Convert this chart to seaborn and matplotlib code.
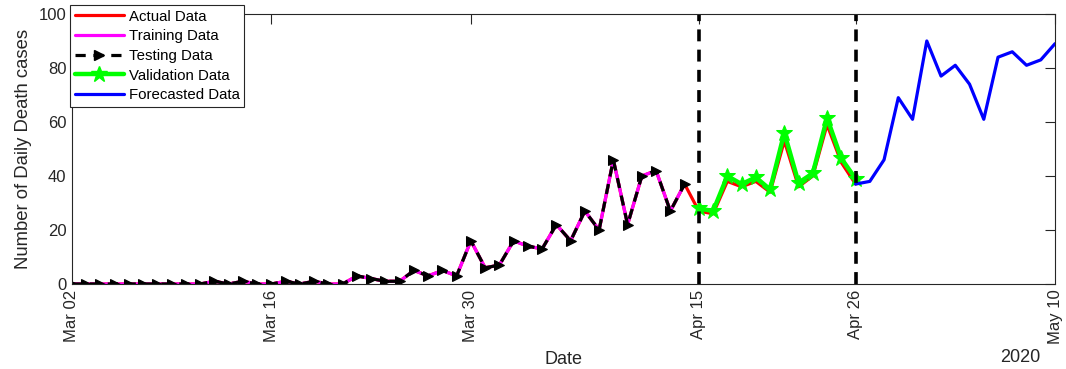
import numpy as np
import pandas as pd
import matplotlib
matplotlib.use("Agg")
import matplotlib.pyplot as plt
import matplotlib.dates as mdates
from matplotlib.lines import Line2D
import seaborn as sns

# Daily death counts, one value per day starting 2020-03-02
actual = [0, 0, 0, 0, 0, 0, 0, 0, 0, 0,
          1, 0, 1, 0, 0, 1, 0, 1, 0, 0,
          3, 2, 1, 1, 5, 3, 5, 3, 16, 6,
          7, 16, 14, 13, 22, 16, 27, 20, 46, 22,
          40, 42, 27, 37,
          27, 26, 38, 36, 38, 34, 53, 36, 40, 59, 45, 37]
train_len = 44                     # Mar 02 .. Apr 14
validation = [28, 27, 40, 37, 39.5, 35, 56, 37.5, 41, 61.5, 46.5, 39]   # Apr 15 .. Apr 26
forecast = [37, 38, 46, 69, 61, 90, 77, 81, 74, 61, 84, 86, 81, 83, 89]  # Apr 26 .. May 10

start = pd.Timestamp("2020-03-02")
tick_dates = ["2020-03-02", "2020-03-16", "2020-03-30", "2020-04-15", "2020-04-26", "2020-05-10"]
split_dates = ["2020-04-15", "2020-04-26"]

dates_actual = pd.date_range(start, periods=len(actual), freq="D")
dates_train = dates_actual[:train_len]
dates_val = pd.date_range("2020-04-15", periods=len(validation), freq="D")
dates_fc = pd.date_range("2020-04-26", periods=len(forecast), freq="D")

sns.set_theme(style="white")
plt.rcParams["font.family"] = ["Liberation Sans", "DejaVu Sans"]

fig = plt.figure(figsize=(10.66, 3.69), dpi=100)
ax = fig.add_axes([0.0675, 0.2304, 0.9222, 0.7317])

lw = 2.3
dash = (0, (3.2, 2.4))
sns.lineplot(x=dates_actual, y=actual, ax=ax, color="red", linewidth=lw,
             estimator=None, legend=False)
sns.lineplot(x=dates_train, y=actual[:train_len], ax=ax, color="magenta",
             linewidth=lw, estimator=None, legend=False)
sns.lineplot(x=dates_train, y=actual[:train_len], ax=ax, color="black",
             linewidth=lw, dashes=False, estimator=None, legend=False,
             linestyle=dash, marker=">", markersize=7,
             markeredgecolor="black", markerfacecolor="black")
sns.lineplot(x=dates_val, y=validation, ax=ax, color="#00ff00", linewidth=3.2,
             estimator=None, legend=False, marker="*", markersize=12,
             markeredgecolor="#00ff00", markerfacecolor="#00ff00")
sns.lineplot(x=dates_fc, y=forecast, ax=ax, color="blue", linewidth=lw,
             estimator=None, legend=False)

for d in split_dates:
    ax.axvline(pd.Timestamp(d), color="black", linewidth=2.6,
               linestyle=(0, (3.3, 2.3)))

edge = "#262626"
ax.set_xlim(pd.Timestamp("2020-03-02"), pd.Timestamp("2020-05-10"))
ax.set_ylim(0, 100)
ax.set_yticks(np.arange(0, 101, 20))
ax.set_xticks([pd.Timestamp(t) for t in tick_dates])
ax.xaxis.set_major_formatter(mdates.DateFormatter("%b %d"))
for lab in ax.get_xticklabels():
    lab.set_rotation(90)

ax.tick_params(axis="both", direction="in", length=7, width=0.8, colors=edge,
               labelsize=12, top=True, right=True, pad=4)
for s in ax.spines.values():
    s.set_visible(True)
    s.set_color(edge)
    s.set_linewidth(0.8)

ax.set_xlabel("Date", fontsize=13, color=edge, labelpad=5)
ax.set_ylabel("Number of Daily Death cases", fontsize=13.3, color=edge, labelpad=5)
fig.text(0.957, 0.032, "2020", fontsize=13, color=edge, ha="center", va="center")

handles = [
    Line2D([], [], color="red", linewidth=lw),
    Line2D([], [], color="magenta", linewidth=lw),
    Line2D([], [], color="black", linewidth=lw, linestyle=dash,
           marker=">", markersize=7),
    Line2D([], [], color="#00ff00", linewidth=3.2, marker="*", markersize=12),
    Line2D([], [], color="blue", linewidth=lw),
]
labels = ["Actual Data", "Training Data", "Testing Data", "Validation Data", "Forecasted Data"]
leg = fig.legend(handles, labels, loc="upper left",
                 bbox_to_anchor=(0.0657, 0.9864), bbox_transform=fig.transFigure,
                 fontsize=10.8, frameon=True, fancybox=False, framealpha=1,
                 edgecolor=edge, borderaxespad=0, handlelength=3.3,
                 handletextpad=0.3, labelspacing=0.38, borderpad=0.3,
                 markerfirst=True)
leg.get_frame().set_linewidth(0.8)
for t in leg.get_texts():
    t.set_color("black")

fig.savefig("out.png", dpi=100, facecolor="white")
